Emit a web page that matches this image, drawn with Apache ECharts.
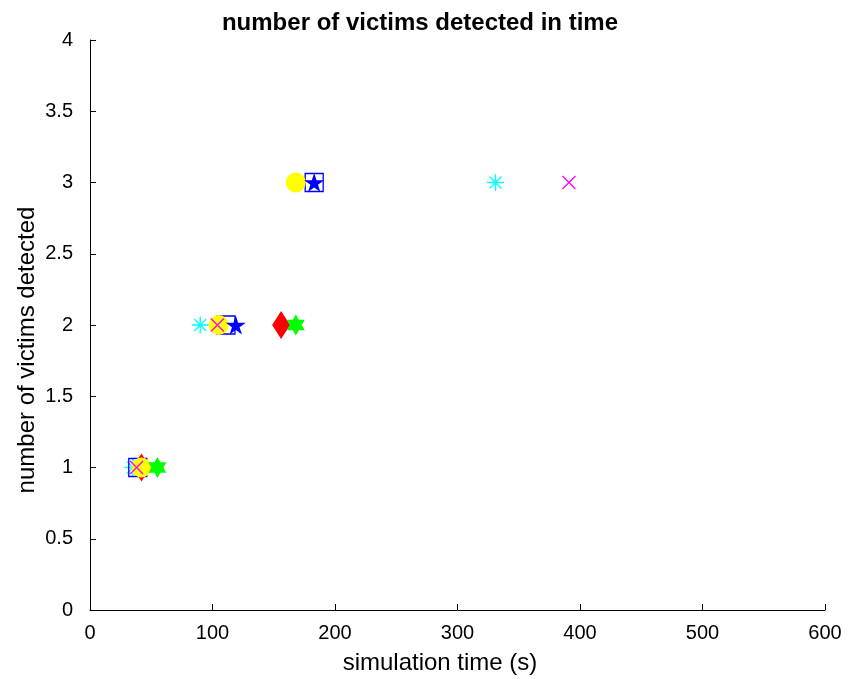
<!DOCTYPE html>
<html>
<head>
<meta charset="utf-8">
<script src="https://cdn.jsdelivr.net/npm/echarts@6/dist/echarts.min.js"></script>
<style>
  html, body { margin: 0; padding: 0; background: #fff; }
  #main { width: 856px; height: 679px; }
</style>
</head>
<body>
<div id="main"></div>
<script>
// victims detected vs time, one series per run (marker style)
const asteriskPts = [[35, 1], [90, 2], [331, 3]];
const squarePts = [[39, 1], [111, 2], [183, 3]];
const diamondPts = [[42, 1], [156, 2]];
const circlePts = [[42, 1], [105, 2], [168, 3]];
const crossPts = [[38, 1], [104, 2], [391, 3]];
const hexagramPts = [[55, 1], [168, 2]];
const pentagramPts = [[119, 2], [183, 3]];

const xTicks = [0, 100, 200, 300, 400, 500, 600];
const yTicks = [0, 0.5, 1, 1.5, 2, 2.5, 3, 3.5, 4];

const FONT = 'Liberation Sans';

const asteriskPath = 'path://M0,5 L10,5 M5,0 L5,10 M1.5,1.5 L8.5,8.5 M1.5,8.5 L8.5,1.5';
const crossPath = 'path://M0,0 L10,10 M0,10 L10,0';
const hexagramPath = 'path://M5,0 L9.33,7.5 L0.67,7.5 Z M5,10 L0.67,2.5 L9.33,2.5 Z';
const pentagramPath = 'path://M50,0 L61.23,34.55 L97.55,34.55 L68.17,55.9 L79.39,90.45 L50,69.1 L20.61,90.45 L31.83,55.9 L2.45,34.55 L38.77,34.55 Z';

var chart = echarts.init(document.getElementById('main'));

function scat(name, data, symbol, size, style) {
  style.opacity = 1;
  return {
    name: name,
    type: 'scatter',
    data: data,
    symbol: symbol,
    symbolSize: size,
    itemStyle: style,
    emphasis: { disabled: true },
    animation: false
  };
}

var option = {
  backgroundColor: '#fff',
  title: {
    text: 'number of victims detected in time',
    left: 415,
    top: 6,
    textAlign: 'center',
    textStyle: { fontFamily: FONT, fontSize: 24, fontWeight: 'bold', color: '#000' }
  },
  grid: { left: 90, right: 31, top: 40, bottom: 69 },
  xAxis: {
    type: 'value',
    min: xTicks[0],
    max: xTicks[xTicks.length - 1],
    interval: 100,
    axisLine: { lineStyle: { color: '#000', width: 1 } },
    axisTick: { inside: true, length: 6, lineStyle: { color: '#000' } },
    axisLabel: { color: '#000', fontFamily: FONT, fontSize: 20, margin: 13 },
    splitLine: { show: false }
  },
  yAxis: {
    type: 'value',
    min: yTicks[0],
    max: yTicks[yTicks.length - 1],
    interval: 0.5,
    axisLine: { show: true, lineStyle: { color: '#000', width: 1 } },
    axisTick: { show: true, inside: true, length: 6, lineStyle: { color: '#000' } },
    axisLabel: { color: '#000', fontFamily: FONT, fontSize: 20, margin: 17 },
    splitLine: { show: false }
  },
  graphic: [
    {
      type: 'text',
      x: 440, y: 663,
      style: { text: 'simulation time (s)', fill: '#000', font: '24px "Liberation Sans"', textAlign: 'center', textVerticalAlign: 'middle' }
    },
    {
      type: 'text',
      x: 27, y: 350,
      rotation: Math.PI / 2,
      style: { text: 'number of victims detected', fill: '#000', font: '24px "Liberation Sans"', textAlign: 'center', textVerticalAlign: 'middle' }
    }
  ],
  series: [
    scat('asterisk', asteriskPts, asteriskPath, 17, { color: 'transparent', borderColor: '#00ffff', borderWidth: 1.3 }),
    scat('square', squarePts, 'rect', 18, { color: 'transparent', borderColor: '#0000ff', borderWidth: 1.3 }),
    scat('diamond', diamondPts, 'diamond', [18, 28], { color: '#ff0000' }),
    scat('circle', circlePts, 'circle', 20, { color: '#ffff00' }),
    scat('cross', crossPts, crossPath, 13, { color: 'transparent', borderColor: '#ff00ff', borderWidth: 1.3 }),
    scat('hexagram', hexagramPts, hexagramPath, [18, 21], { color: '#00ff00' }),
    scat('pentagram', pentagramPts, pentagramPath, [20, 19], { color: '#0000ff' })
  ]
};
chart.setOption(option);
</script>
</body>
</html>
